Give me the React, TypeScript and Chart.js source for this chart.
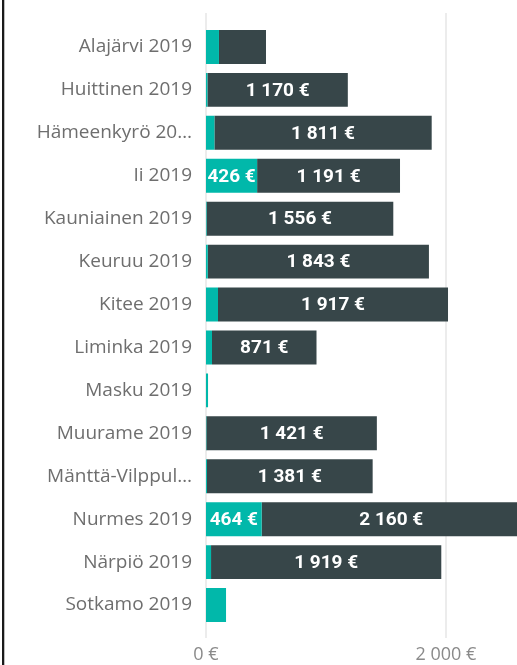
import React, { useEffect, useRef } from "react";
import { Chart, registerables } from "chart.js";

Chart.register(...registerables);

const categories = [
  "Alajärvi 2019",
  "Huittinen 2019",
  "Hämeenkyrö 20…",
  "Ii 2019",
  "Kauniainen 2019",
  "Keuruu 2019",
  "Kitee 2019",
  "Liminka 2019",
  "Masku 2019",
  "Muurame 2019",
  "Mänttä-Vilppul…",
  "Nurmes 2019",
  "Närpiö 2019",
  "Sotkamo 2019",
];

const tealValues = [108, 12, 70, 426, 5, 15, 100, 50, 17, 3, 8, 464, 42, 167];
const darkValues = [392, 1170, 1811, 1191, 1556, 1843, 1917, 871, 0, 1421, 1381, 2160, 1919, 0];

const xTickValues = [0, 2000];
const xMin = 0;
const xMax = 2592;

const TEAL = "#01B8AA";
const DARK = "#374649";

function fmt(v: number): string {
  return String(Math.round(v)).replace(/\B(?=(\d{3})+(?!\d))/g, " ") + " €";
}

const gridPlugin = {
  id: "extGrid",
  beforeDatasetsDraw(chart: any) {
    const { ctx, chartArea, scales } = chart;
    const x = scales.x;
    ctx.save();
    ctx.strokeStyle = "#ececec";
    ctx.lineWidth = 2;
    for (const v of xTickValues) {
      const px = Math.round(x.getPixelForValue(v));
      ctx.beginPath();
      ctx.moveTo(px, chartArea.top - 12.5);
      ctx.lineTo(px, chartArea.bottom + 11.5);
      ctx.stroke();
    }
    ctx.restore();
  },
};

const labelPlugin = {
  id: "barLabels",
  afterDatasetsDraw(chart: any) {
    const { ctx } = chart;
    ctx.save();
    ctx.font = "bold 19px Roboto";
    ctx.fillStyle = "#ffffff";
    ctx.textAlign = "center";
    ctx.textBaseline = "middle";
    chart.data.datasets.forEach((ds: any, di: number) => {
      const meta = chart.getDatasetMeta(di);
      meta.data.forEach((bar: any, i: number) => {
        const v = ds.data[i];
        if (!v) return;
        const w = Math.abs(bar.x - bar.base);
        const text = fmt(v);
        const tw = ctx.measureText(text).width;
        if (tw + 2 > w) return;
        ctx.fillText(text, (bar.x + bar.base) / 2, bar.y + 1);
      });
    });
    ctx.restore();
  },
};

export default function App() {
  const ref = useRef<HTMLCanvasElement | null>(null);

  useEffect(() => {
    if (!ref.current) return;
    const chart = new Chart(ref.current, {
      type: "bar",
      data: {
        labels: categories,
        datasets: [
          {
            label: "A",
            data: tealValues,
            backgroundColor: TEAL,
            barPercentage: 0.79,
            categoryPercentage: 1,
          },
          {
            label: "B",
            data: darkValues,
            backgroundColor: DARK,
            barPercentage: 0.79,
            categoryPercentage: 1,
          },
        ],
      },
      options: {
        indexAxis: "y",
        animation: false,
        responsive: false,
        maintainAspectRatio: false,
        layout: { padding: { top: 25.5, bottom: 0, left: 0, right: 0 } },
        plugins: {
          legend: { display: false },
          tooltip: { enabled: false },
        },
        scales: {
          x: {
            type: "linear",
            stacked: true,
            min: xMin,
            max: xMax,
            afterBuildTicks: (scale: any) => {
              scale.ticks = xTickValues.map((v) => ({ value: v }));
            },
            afterFit: (scale: any) => {
              scale.height = 38.5;
            },
            grid: { display: false, drawTicks: false },
            border: { display: false },
            ticks: {
              padding: 18,
              color: "#8a8a8a",
              font: { family: "'Open Sans'", size: 18 },
              callback: (v: any) => fmt(Number(v)),
              maxRotation: 0,
            },
          },
          y: {
            type: "category",
            stacked: true,
            afterFit: (scale: any) => {
              scale.width = 206;
            },
            grid: { display: false, drawTicks: false },
            border: { display: false },
            ticks: {
              padding: 14,
              color: "#6e6e6e",
              font: { family: "'Open Sans'", size: 19 },
              autoSkip: false,
            },
          },
        },
      },
      plugins: [gridPlugin, labelPlugin],
    });
    return () => chart.destroy();
  }, []);

  return (
    <div
      style={{
        position: "absolute",
        left: 0,
        top: 0,
        width: 517,
        height: 665,
        overflow: "hidden",
        background: "#ffffff",
      }}
    >
      <canvas ref={ref} width={517} height={665} style={{ display: "block" }} />
      <div
        style={{
          position: "absolute",
          left: 2,
          top: 0,
          width: 2,
          height: 665,
          background: "#1a1a1a",
        }}
      />
      <div
        style={{
          position: "absolute",
          left: 4,
          top: 0,
          width: 1,
          height: 665,
          background: "#bdbdbd",
        }}
      />
    </div>
  );
}
